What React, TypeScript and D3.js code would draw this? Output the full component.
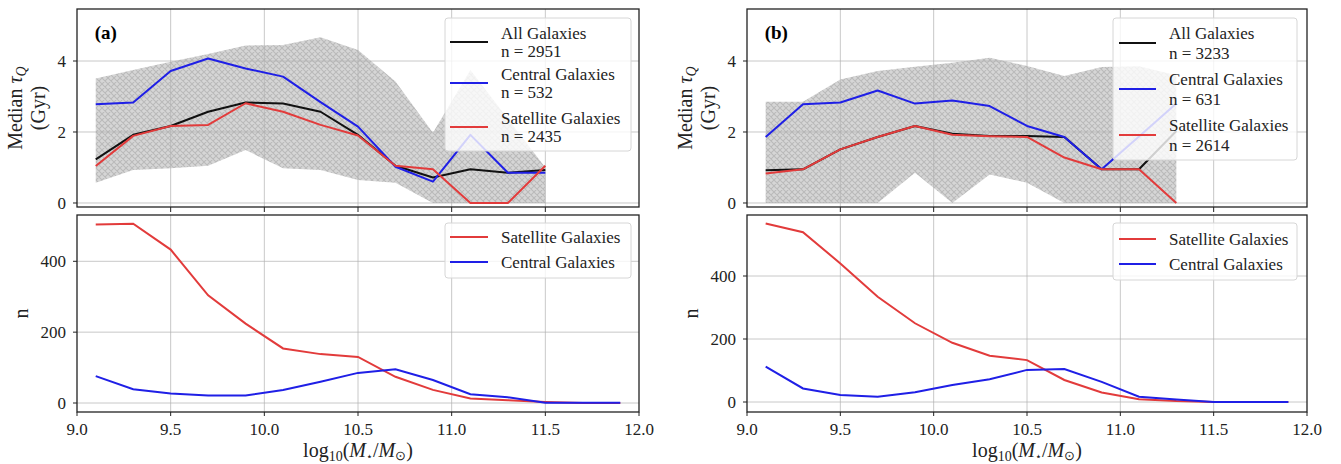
import React, { useEffect, useRef } from "react";
import * as d3 from "d3";

// stellar mass bins (log10 M*/Msun)
const massTopA = [9.1, 9.3, 9.5, 9.7, 9.9, 10.1, 10.3, 10.5, 10.7, 10.9, 11.1, 11.3, 11.5];
const massTopB = [9.1, 9.3, 9.5, 9.7, 9.9, 10.1, 10.3, 10.5, 10.7, 10.9, 11.1, 11.3];
const massAll = [9.1, 9.3, 9.5, 9.7, 9.9, 10.1, 10.3, 10.5, 10.7, 10.9, 11.1, 11.3, 11.5, 11.7, 11.9];

// panel (a) median tau_Q (Gyr)
const allA = [1.23, 1.92, 2.17, 2.57, 2.83, 2.8, 2.57, 1.92, 1.05, 0.72, 0.95, 0.85, 0.93];
const centralA = [2.78, 2.83, 3.72, 4.07, 3.79, 3.56, 2.84, 2.15, 1.02, 0.6, 1.92, 0.85, 0.85];
const satelliteA = [1.04, 1.89, 2.17, 2.2, 2.81, 2.57, 2.2, 1.9, 1.05, 0.95, 0, 0, 1.05];
const upperA = [3.51, 3.75, 3.98, 4.2, 4.44, 4.45, 4.67, 4.31, 3.42, 1.98, 3.75, 2.37, 1.0];
const lowerA = [0.57, 0.93, 0.98, 1.05, 1.49, 0.98, 0.93, 0.65, 0.57, 0, 0, 0, 0];

// panel (b) median tau_Q (Gyr)
const allB = [0.92, 0.95, 1.51, 1.86, 2.17, 1.95, 1.89, 1.89, 1.86, 0.95, 0.95, 2.03];
const centralB = [1.86, 2.78, 2.83, 3.17, 2.8, 2.89, 2.73, 2.17, 1.86, 0.95, 1.87, 2.8];
const satelliteB = [0.83, 0.95, 1.51, 1.86, 2.17, 1.92, 1.88, 1.86, 1.28, 0.95, 0.95, 0];
const upperB = [2.85, 2.85, 3.48, 3.72, 3.84, 3.95, 4.09, 3.86, 3.58, 3.83, 3.85, 3.6];
const lowerB = [0, 0, 0, 0, 0.85, 0, 0.8, 0.57, 0, 0, 0, 0];

// counts per bin
const satNA = [504, 506, 433, 304, 224, 154, 138, 130, 74, 37, 13, 8, 3, 0, 0];
const cenNA = [76, 39, 27, 21, 21, 37, 60, 85, 95, 65, 25, 16, 1, 1, 1];
const satNB = [567, 539, 440, 334, 250, 188, 147, 133, 70, 30, 9, 3, 0, 0, 0];
const cenNB = [112, 43, 22, 17, 31, 54, 72, 102, 105, 64, 17, 8, 0, 0, 0];

const xTicks = [9.0, 9.5, 10.0, 10.5, 11.0, 11.5, 12.0];
const tauTicks = [0, 2, 4];
const nTicks = [0, 200, 400];

const counts = { a: ["2951", "532", "2435"], b: ["3233", "631", "2614"] };

const BLACK = "#111111";
const BLUE = "#1f1fe6";
const RED = "#e23b3b";
const FONT = "'Liberation Serif', 'Times New Roman', serif";

const panels = [
  {
    id: "a", left: 77, right: 639, nDomain: [-25.4, 530.7],
    mass: massTopA, all: allA, central: centralA, satellite: satelliteA, upper: upperA, lower: lowerA,
    satN: satNA, cenN: cenNA,
    leg: { x0: 445, x1: 631, y0: 18, y1: 151, lx0: 450, lx1: 488, tx: 501, rows: [42, 83, 127], gap: 18.5 },
    leg2: { y0: 223, y1: 278, rows: [237, 262] },
  },
  {
    id: "b", left: 747, right: 1307, nDomain: [-31.7, 593.7],
    mass: massTopB, all: allB, central: centralB, satellite: satelliteB, upper: upperB, lower: lowerB,
    satN: satNB, cenN: cenNB,
    leg: { x0: 1113, x1: 1297, y0: 18, y1: 160, lx0: 1119, lx1: 1156, tx: 1169, rows: [43, 89, 135], gap: 20.5 },
    leg2: { y0: 223, y1: 280, rows: [239, 264] },
  },
];

const App = () => {
  const ref = useRef(null);

  useEffect(() => {
    const svg = d3.select(ref.current);
    svg.selectAll("*").remove();
    svg.append("rect").attr("width", 1341).attr("height", 464).attr("fill", "#fff");

    const defs = svg.append("defs");
    const pat = defs
      .append("pattern")
      .attr("id", "hatch")
      .attr("patternUnits", "userSpaceOnUse")
      .attr("width", 6)
      .attr("height", 6);
    pat.append("rect").attr("width", 6).attr("height", 6).attr("fill", "#d6d6d6");
    pat
      .append("path")
      .attr("d", "M0,0L6,6M6,0L0,6M-1,5L1,7M5,-1L7,1M-1,1L1,-1M5,7L7,5")
      .attr("stroke", "#bababa")
      .attr("stroke-width", 1.1);

    const topY0 = 9, topY1 = 207, botY0 = 215, botY1 = 412;

    panels.forEach((p) => {
      const x = d3.scaleLinear().domain([9, 12]).range([p.left, p.right]);
      const yT = d3.scaleLinear().domain([-0.113, 5.465]).range([topY1, topY0]);
      const yB = d3.scaleLinear().domain(p.nDomain).range([botY1, botY0]);
      const g = svg.append("g").style("font-family", FONT);

      // ---- top axes ----
      const band = d3
        .area()
        .x((d, i) => x(p.mass[i]))
        .y0((d, i) => yT(p.lower[i]))
        .y1((d, i) => yT(p.upper[i]));
      g.append("path").datum(p.mass).attr("d", band).attr("fill", "url(#hatch)");

      const gridT = g.append("g").attr("stroke", "#b0b0b0").attr("stroke-opacity", 0.7);
      xTicks.slice(1, -1).forEach((t) =>
        gridT.append("line").attr("x1", x(t)).attr("x2", x(t)).attr("y1", topY0).attr("y2", topY1)
      );
      tauTicks.forEach((t) =>
        gridT.append("line").attr("x1", p.left).attr("x2", p.right).attr("y1", yT(t)).attr("y2", yT(t))
      );

      const lineT = (vals) =>
        d3.line().x((d, i) => x(p.mass[i])).y((d) => yT(d))(vals);
      [
        [p.all, BLACK],
        [p.central, BLUE],
        [p.satellite, RED],
      ].forEach(([vals, c]) =>
        g.append("path").attr("d", lineT(vals)).attr("fill", "none").attr("stroke", c).attr("stroke-width", 2)
          .attr("stroke-linejoin", "round")
      );

      g.append("rect")
        .attr("x", p.left).attr("y", topY0).attr("width", p.right - p.left).attr("height", topY1 - topY0)
        .attr("fill", "none").attr("stroke", "#222").attr("stroke-width", 1.3);

      // ticks
      xTicks.slice(1, -1).forEach((t) =>
        g.append("line").attr("x1", x(t)).attr("x2", x(t)).attr("y1", topY1).attr("y2", topY1 + 5)
          .attr("stroke", "#222")
      );
      tauTicks.forEach((t) => {
        g.append("line").attr("x1", p.left - 4).attr("x2", p.left).attr("y1", yT(t)).attr("y2", yT(t)).attr("stroke", "#222");
        g.append("text").attr("x", p.left - 11).attr("y", yT(t) + 6).attr("text-anchor", "end")
          .style("font-size", "17px").attr("fill", "#222").text(t);
      });

      g.append("text").attr("x", x(9.1) - 1).attr("y", 39).style("font-size", "19px").style("font-weight", "700")
        .text(`(${p.id})`);

      // y label
      const cyT = (topY0 + topY1) / 2;
      const yl = g.append("text")
        .attr("transform", `translate(${p.left - 55},${cyT}) rotate(-90)`)
        .attr("text-anchor", "middle").style("font-size", "20px").attr("fill", "#222");
      yl.append("tspan").text("Median ");
      yl.append("tspan").style("font-style", "italic").text("τ");
      yl.append("tspan").attr("dy", 4).style("font-size", "14px").style("font-style", "italic").text("Q");
      g.append("text")
        .attr("transform", `translate(${p.left - 32},${cyT}) rotate(-90)`)
        .attr("text-anchor", "middle").style("font-size", "20px").attr("fill", "#222").text("(Gyr)");

      // legend (top)
      const L = p.leg;
      g.append("rect").attr("x", L.x0).attr("y", L.y0).attr("width", L.x1 - L.x0).attr("height", L.y1 - L.y0)
        .attr("rx", 3).attr("fill", "#fff").attr("fill-opacity", 0.8).attr("stroke", "#d6d6d6");
      const names = ["All Galaxies", "Central Galaxies", "Satellite Galaxies"];
      const cols = [BLACK, BLUE, RED];
      names.forEach((nm, i) => {
        const ry = L.rows[i];
        g.append("line").attr("x1", L.lx0).attr("x2", L.lx1).attr("y1", ry).attr("y2", ry)
          .attr("stroke", cols[i]).attr("stroke-width", 2);
        g.append("text").attr("x", L.tx).attr("y", ry - L.gap / 2 + 6).style("font-size", "17px").attr("fill", "#222").text(nm);
        g.append("text").attr("x", L.tx).attr("y", ry + L.gap / 2 + 6).style("font-size", "17px").attr("fill", "#222")
          .text(`n = ${counts[p.id][i]}`);
      });

      // ---- bottom axes ----
      const gridB = g.append("g").attr("stroke", "#b0b0b0").attr("stroke-opacity", 0.7);
      xTicks.slice(1, -1).forEach((t) =>
        gridB.append("line").attr("x1", x(t)).attr("x2", x(t)).attr("y1", botY0).attr("y2", botY1)
      );
      nTicks.forEach((t) =>
        gridB.append("line").attr("x1", p.left).attr("x2", p.right).attr("y1", yB(t)).attr("y2", yB(t))
      );

      const lineB = d3.line().x((d, i) => x(massAll[i])).y((d) => yB(d));
      g.append("path").attr("d", lineB(p.satN)).attr("fill", "none").attr("stroke", RED).attr("stroke-width", 2);
      g.append("path").attr("d", lineB(p.cenN)).attr("fill", "none").attr("stroke", BLUE).attr("stroke-width", 2);

      g.append("rect")
        .attr("x", p.left).attr("y", botY0).attr("width", p.right - p.left).attr("height", botY1 - botY0)
        .attr("fill", "none").attr("stroke", "#222").attr("stroke-width", 1.3);

      xTicks.forEach((t) => {
        g.append("line").attr("x1", x(t)).attr("x2", x(t)).attr("y1", botY1).attr("y2", botY1 + 4).attr("stroke", "#222");
        g.append("text").attr("x", x(t)).attr("y", 435).attr("text-anchor", "middle")
          .style("font-size", "17px").attr("fill", "#222").text(t.toFixed(1));
      });
      nTicks.forEach((t) => {
        g.append("line").attr("x1", p.left - 4).attr("x2", p.left).attr("y1", yB(t)).attr("y2", yB(t)).attr("stroke", "#222");
        g.append("text").attr("x", p.left - 11).attr("y", yB(t) + 6).attr("text-anchor", "end")
          .style("font-size", "17px").attr("fill", "#222").text(t);
      });

      g.append("text")
        .attr("transform", `translate(${p.left - 49},${(botY0 + botY1) / 2}) rotate(-90)`)
        .attr("text-anchor", "middle").style("font-size", "20px").attr("fill", "#222").text("n");

      // x label
      const xl = g.append("text").attr("x", (p.left + p.right) / 2).attr("y", 457)
        .attr("text-anchor", "middle").style("font-size", "20px").attr("fill", "#222");
      xl.append("tspan").text("log");
      xl.append("tspan").attr("dy", 4).style("font-size", "14px").text("10");
      xl.append("tspan").attr("dy", -4).text("(");
      xl.append("tspan").style("font-style", "italic").text("M");
      xl.append("tspan").attr("dy", 3).style("font-size", "11px").text("⋆");
      xl.append("tspan").attr("dy", -3).text("/");
      xl.append("tspan").style("font-style", "italic").text("M");
      xl.append("tspan").attr("dy", 3).style("font-size", "13px").text("⊙");
      xl.append("tspan").attr("dy", -3).text(")");

      // legend (bottom)
      const L2 = p.leg2;
      g.append("rect").attr("x", L.x0).attr("y", L2.y0).attr("width", L.x1 - L.x0).attr("height", L2.y1 - L2.y0)
        .attr("rx", 3).attr("fill", "#fff").attr("fill-opacity", 0.8).attr("stroke", "#d6d6d6");
      [
        ["Satellite Galaxies", RED],
        ["Central Galaxies", BLUE],
      ].forEach(([nm, c], i) => {
        const ry = L2.rows[i];
        g.append("line").attr("x1", L.lx0).attr("x2", L.lx1).attr("y1", ry).attr("y2", ry)
          .attr("stroke", c).attr("stroke-width", 2);
        g.append("text").attr("x", L.tx).attr("y", ry + 6).style("font-size", "17px").attr("fill", "#222").text(nm);
      });
    });
  }, []);

  return (
    <svg
      ref={ref}
      width={1341}
      height={464}
      style={{ position: "absolute", left: 0, top: 0 }}
    />
  );
};

export default App;
